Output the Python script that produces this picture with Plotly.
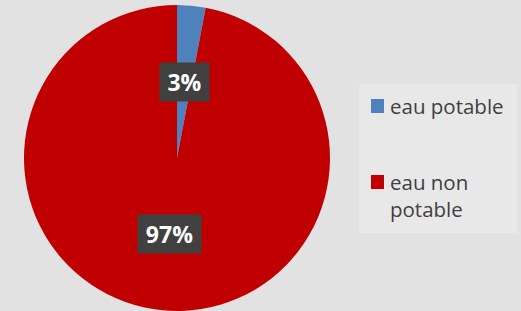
import math
import plotly.graph_objects as go

labels = ["eau potable", "eau non potable"]
legend_text = ["eau potable", "eau non<br>potable"]
values = [3, 97]
colors = ["#4f81bd", "#c00000"]

W, H = 521, 311
cx, cy, R = 177, 158, 153  # pie centre / radius in pixels

fig = go.Figure(go.Pie(
    labels=labels, values=values, sort=False, direction="clockwise", rotation=0,
    marker=dict(colors=colors, line=dict(width=0)),
    textinfo="none", hoverinfo="label+percent", showlegend=False,
    domain=dict(x=[(cx - R) / W, (cx + R) / W], y=[(H - cy - R) / H, (H - cy + R) / H]),
))

annotations = []
shapes = []
total = sum(values)
cum = 0
for v in values:
    mid = (cum + v / 2) / total * 2 * math.pi
    cum += v
    px = cx + 0.5 * R * math.sin(mid)
    py = cy - 0.5 * R * math.cos(mid)
    txt = f"{round(100 * v / total)}%"
    annotations.append(dict(
        x=px / W, y=1 - py / H, xref="paper", yref="paper", showarrow=False,
        xanchor="center", yanchor="middle",
        text=f"<b>{txt}</b>", font=dict(family="Open Sans", size=23, color="white"),
        bgcolor="#404040", borderpad=6, width=14 * len(txt) + 9, height=26,
    ))

# legend box
shapes.append(dict(type="rect", xref="paper", yref="paper",
                   x0=359 / W, x1=517 / W, y0=1 - 233 / H, y1=1 - 84 / H,
                   fillcolor="#e8e8e8", line=dict(width=0), layer="below"))
item_y = [106, 182]
for c, t, yy in zip(colors, legend_text, item_y):
    shapes.append(dict(type="rect", xref="paper", yref="paper",
                       x0=371 / W, x1=384 / W, y0=1 - (yy + 7) / H, y1=1 - (yy - 7) / H,
                       fillcolor=c, line=dict(width=0)))
    annotations.append(dict(
        x=388 / W, y=1 - (yy - 16) / H, xref="paper", yref="paper", showarrow=False,
        xanchor="left", yanchor="top", align="left", text=t,
        font=dict(family="Open Sans", size=20.5, color="#404040"),
    ))

fig.update_layout(
    width=W, height=H, margin=dict(l=0, r=0, t=0, b=0),
    paper_bgcolor="#e2e2e2", plot_bgcolor="#e2e2e2",
    annotations=annotations, shapes=shapes,
)
fig.write_html("out.html", config={"displayModeBar": False},
               post_script="document.body.style.margin='0';document.body.style.overflow='hidden';")
